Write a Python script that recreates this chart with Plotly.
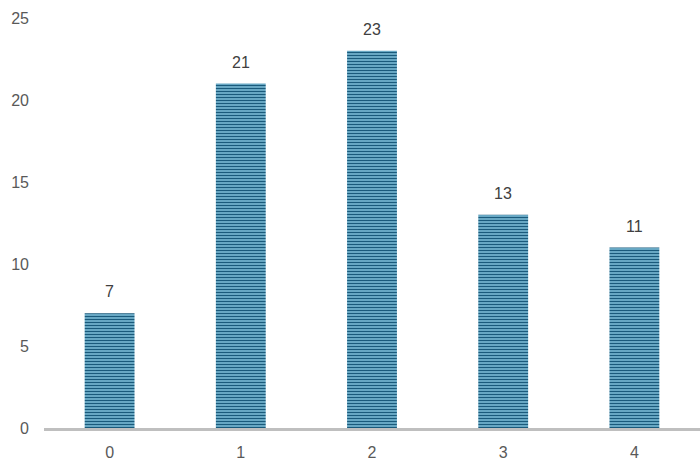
import plotly.graph_objects as go

categories = ["0", "1", "2", "3", "4"]
values = [7, 21, 23, 13, 11]
y_ticks = [0, 5, 10, 15, 20, 25]

fig = go.Figure(go.Bar(
    x=categories, y=values,
    marker=dict(color="#6aaecd", line=dict(width=0),
                pattern=dict(shape="-", fgcolor="#1a5a7b", bgcolor="#80c0db", size=3, solidity=0.5, fillmode="replace")),
))
for c, v in zip(categories, values):
    fig.add_annotation(x=c, y=v, text=str(v), showarrow=False, yanchor="bottom", yshift=11,
                       font=dict(size=16, color="#404040", family="Liberation Sans, Arial"))
fig.update_layout(
    width=700, height=469,
    margin=dict(l=44, r=0, t=18, b=41),
    plot_bgcolor="white", paper_bgcolor="white",
    bargap=0.62, showlegend=False,
    font=dict(family="Liberation Sans, Arial", size=16, color="#595959"),
)
fig.update_xaxes(type="category", range=[-0.5, 4.5], showgrid=False, showline=True, automargin=False,
                 linecolor="#bfbfbf", linewidth=3, ticks="", ticklen=0, ticklabelstandoff=8)
fig.update_yaxes(range=[0, 25], tickvals=y_ticks, showgrid=False, zeroline=False, automargin=False,
                 showline=False, ticks="", ticklabelstandoff=14)
fig.write_html("out.html", config={"displayModeBar": False},
               post_script="document.body.style.margin='0';document.body.style.overflow='hidden';")
